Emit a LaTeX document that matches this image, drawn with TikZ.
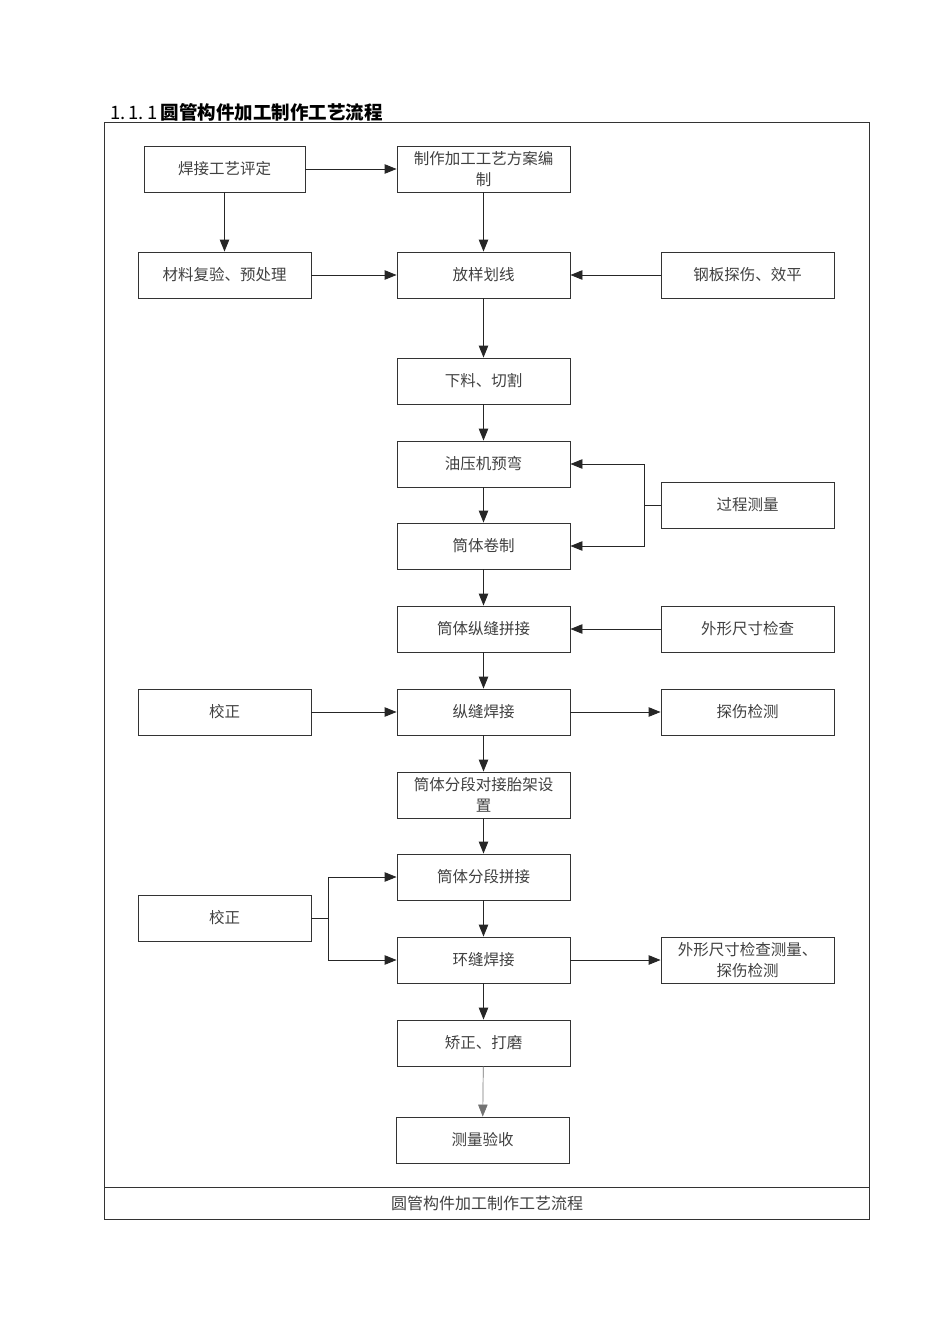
\documentclass[tikz,border=0pt]{standalone}
\usepackage{fontspec}
\newfontfamily\cjk{Noto Sans CJK SC}
\usetikzlibrary{arrows.meta}

\begin{document}
\begin{tikzpicture}[
    x=1pt, y=-1pt,
    stepbox/.style={draw=black!80, line width=0.9pt, minimum width=173pt, minimum height=46pt,
        inner sep=0pt, align=center, text=black!75,
        font=\cjk\fontsize{15.5}{21}\selectfont},
    flow/.style={-{Triangle[length=12pt, width=9.5pt]}, line width=0.9pt, draw=black!85},
    link/.style={line width=0.9pt, draw=black!85}
]
\useasboundingbox (0,0) rectangle (950,1344);

% ======================
% Title and frame
% ======================
\node[anchor=west, inner sep=0pt, font=\cjk\fontsize{18.5}{22}\selectfont] (title) at (110,112)
    {1.\,1.\,1\,\textbf{圆管构件加工制作工艺流程}};
\draw[black!80, line width=0.9pt] (104,122) rectangle (869,1219);
\draw[black!80, line width=0.9pt] (104,1187) -- (869,1187);
\node[font=\cjk\fontsize{16}{20}\selectfont, text=black!75] (caption) at (487,1203)
    {圆管构件加工制作工艺流程};

% ======================
% Top rows
% ======================
\node[stepbox, minimum width=161pt] (pj) at (224.5,169) {焊接工艺评定};
\node[stepbox] (fa) at (483.5,169) {制作加工工艺方案编\\制};
\node[stepbox] (cl) at (224.5,275) {材料复验、预处理};
\node[stepbox] (fy) at (483.5,275) {放样划线};
\node[stepbox] (gb) at (747.5,275) {钢板探伤、效平};

% ======================
% Main column
% ======================
\node[stepbox] (xl) at (483.5,381)  {下料、切割};
\node[stepbox] (yy) at (483.5,464)  {油压机预弯};
\node[stepbox] (jz) at (483.5,546)  {筒体卷制};
\node[stepbox] (zp) at (483.5,629)  {筒体纵缝拼接};
\node[stepbox] (zh) at (483.5,712)  {纵缝焊接};
\node[stepbox] (tj) at (483.5,795)  {筒体分段对接胎架设\\置};
\node[stepbox] (fd) at (483.5,877)  {筒体分段拼接};
\node[stepbox] (hf) at (483.5,960)  {环缝焊接};
\node[stepbox] (dm) at (483.5,1043) {矫正、打磨};
\node[stepbox] (ys) at (482.5,1140) {测量验收};

% ======================
% Side boxes
% ======================
\node[stepbox] (gc)  at (747.5,505) {过程测量};
\node[stepbox] (wx)  at (747.5,629) {外形尺寸检查};
\node[stepbox] (jza) at (224.5,712) {校正};
\node[stepbox] (ts)  at (747.5,712) {探伤检测};
\node[stepbox] (jzb) at (224.5,918) {校正};
\node[stepbox] (wc)  at (747.5,960) {外形尺寸检查测量、\\探伤检测};

\coordinate (gcj)  at (644,505);
\coordinate (jzbj) at (328,918);

% ======================
% Connections
% ======================
\draw[flow] (pj) -- (fa);
\draw[flow] (pj) -- (cl);
\draw[flow] (fa) -- (fy);
\draw[flow] (cl) -- (fy);
\draw[flow] (gb) -- (fy);
\foreach \s/\t in {fy/xl, xl/yy, yy/jz, jz/zp, zp/zh, zh/tj, tj/fd, fd/hf, hf/dm} {
    \draw[flow] (\s) -- (\t);
}
\draw[flow, draw=black!55, line width=0.7pt] (dm) -- (ys);

\draw[link] (gc.west) -- (gcj);
\draw[flow] (gcj) |- (yy.east);
\draw[flow] (gcj) |- (jz.east);

\draw[flow] (wx) -- (zp);
\draw[flow] (jza) -- (zh);
\draw[flow] (zh) -- (ts);

\draw[link] (jzb.east) -- (jzbj);
\draw[flow] (jzbj) |- (fd.west);
\draw[flow] (jzbj) |- (hf.west);
\draw[flow] (hf) -- (wc);

\end{tikzpicture}
\end{document}
